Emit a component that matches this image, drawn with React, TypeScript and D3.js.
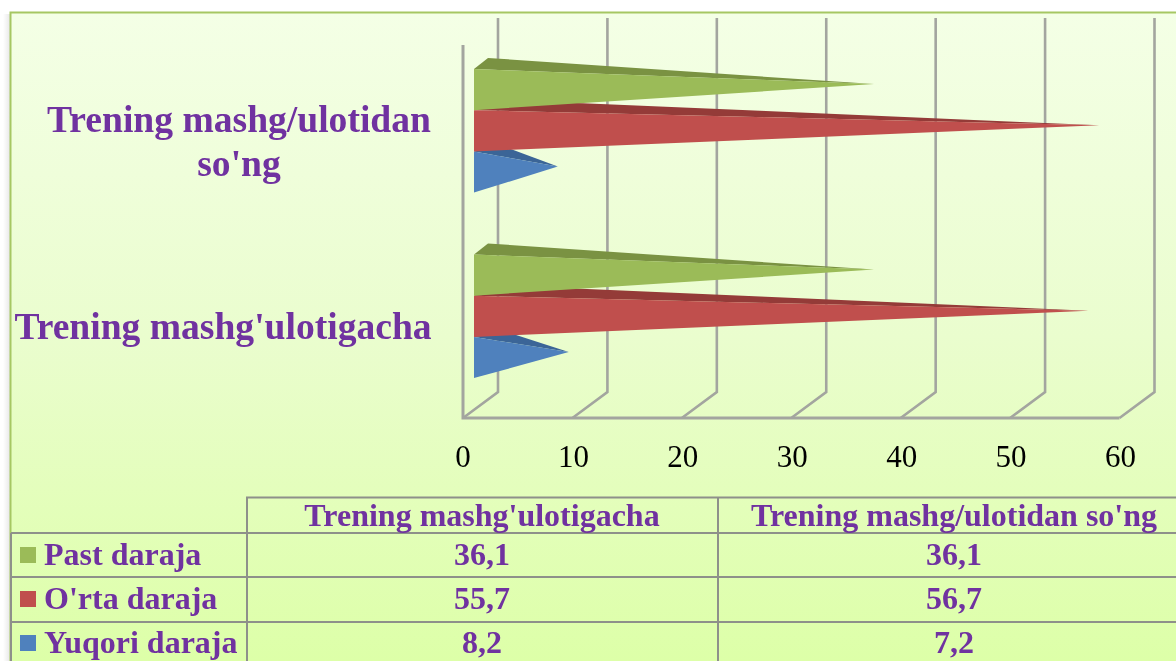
import React from "react";
import * as d3 from "d3";

const categories = ["Trening mashg'ulotigacha", "Trening mashg/ulotidan so'ng"];
const seriesNames = ["Past daraja", "O'rta daraja", "Yuqori daraja"];
const pastValues = [36.1, 36.1];
const ortaValues = [55.7, 56.7];
const yuqoriValues = [8.2, 7.2];
const seriesColors = ["#9BBB59", "#C0504D", "#4F81BD"];
const seriesDark = ["#7A9243", "#943A38", "#3B6597"];
const tickValues = [0, 10, 20, 30, 40, 50, 60];
const categoryLabelLines = [["Trening mashg'ulotigacha"], ["Trening mashg/ulotidan", "so'ng"]];

const seriesValues = [pastValues, ortaValues, yuqoriValues];
const fmt = (v: number) => v.toFixed(1).replace(".", ",");

const WIDTH = 1176;
const HEIGHT = 661;
const FONT = "'Liberation Serif', serif";
const PURPLE = "#7030A0";
const GRID = "#A3A59F";
const TABLE = "#8E908A";

const x = d3.scaleLinear().domain([0, 60]).range([463, 1119.5]);
const depthX = 35;
const depthY = -26;
const floorY = 418;
const backTop = 18;
const wallTop = 45;
const catTop = d3.scaleLinear().domain([0, 1]).range([254.5, 69]);
const barH = 41.2;
const baseX = 474;
const barDX = 14;
const barDY = -11;
const tipShift = 16;

const rowLines = [533, 577, 622];
const colLines = [11, 247, 718];
const rowBaselines = [565, 609, 653];
const colCenters = [482, 954];

export default function App() {
  return (
    <svg
      width={WIDTH}
      height={HEIGHT}
      viewBox={`0 0 ${WIDTH} ${HEIGHT}`}
      style={{ position: "fixed", left: 0, top: 0, display: "block", background: "#fff" }}
    >
      <defs>
        <linearGradient id="bg" x1="0" y1="0" x2="0" y2="1">
          <stop offset="0" stopColor="#F4FFE6" />
          <stop offset="0.5" stopColor="#EAFDCE" />
          <stop offset="1" stopColor="#DDFFA8" />
        </linearGradient>
        <linearGradient id="shadow" x1="0" y1="0" x2="1" y2="0">
          <stop offset="0" stopColor="#fff" />
          <stop offset="1" stopColor="#E8E8E8" />
        </linearGradient>
        <filter id="soft" x="-5%" y="-5%" width="110%" height="110%">
          <feGaussianBlur stdDeviation="0.5" />
        </filter>
        <filter id="softText" x="-5%" y="-5%" width="110%" height="110%">
          <feGaussianBlur stdDeviation="0.3" />
        </filter>
      </defs>

      <rect x={3} y={14} width={7} height={HEIGHT - 14} fill="url(#shadow)" />
      <rect x={10} y={12} width={WIDTH - 10} height={HEIGHT - 12} fill="url(#bg)" />
      <path d={`M10.5,${HEIGHT} V12.5 H${WIDTH}`} fill="none" stroke="#A6C763" strokeWidth={2} />

      <g filter="url(#soft)">
        {tickValues.map((t) => (
          <path
            key={t}
            d={`M${x(t)},${floorY} L${x(t) + depthX},${floorY + depthY} V${backTop}`}
            fill="none"
            stroke={GRID}
            strokeWidth={2.6}
          />
        ))}
        <path
          d={`M${x(0)},${wallTop} V${floorY} H${x(60)}`}
          fill="none"
          stroke={GRID}
          strokeWidth={3}
        />

        {categories.map((c, ci) =>
          [2, 1, 0].map((si) => {
            const y0 = catTop(ci) + si * barH;
            const y1 = y0 + barH;
            const tipX = x(seriesValues[si][ci]) + tipShift;
            const tipY = (y0 + y1) / 2 + barDY / 2;
            return (
              <g key={`${c}-${si}`}>
                <polygon
                  points={`${baseX},${y0} ${baseX + barDX},${y0 + barDY} ${tipX},${tipY}`}
                  fill={seriesDark[si]}
                />
                <polygon
                  points={`${baseX},${y0} ${baseX},${y1} ${tipX},${tipY}`}
                  fill={seriesColors[si]}
                />
              </g>
            );
          })
        )}
      </g>

      <g filter="url(#softText)">
        {tickValues.map((t) => (
          <text
            key={t}
            x={x(t) + (t === 0 ? 0 : 1)}
            y={467}
            textAnchor="middle"
            fontFamily={FONT}
            fontSize={31}
            fill="#000"
          >
            {t}
          </text>
        ))}

        <g fontFamily={FONT} fontWeight="bold" fill={PURPLE} fontSize={37.6}>
          <text x={223} y={339} textAnchor="middle">{categoryLabelLines[0][0]}</text>
          <text x={239} y={132} textAnchor="middle">{categoryLabelLines[1][0]}</text>
          <text x={239} y={176} textAnchor="middle">{categoryLabelLines[1][1]}</text>
        </g>

        <path
          d={`M${WIDTH},497.5 H${colLines[1]} V${HEIGHT} M${colLines[2]},497.5 V${HEIGHT} M${colLines[0]},${rowLines[0]} V${HEIGHT} ${rowLines
            .map((r) => `M${colLines[0]},${r} H${WIDTH}`)
            .join(" ")}`}
          fill="none"
          stroke={TABLE}
          strokeWidth={2}
        />

        <g fontFamily={FONT} fontWeight="bold" fill={PURPLE} fontSize={32}>
          {categories.map((c, i) => (
            <text key={c} x={colCenters[i]} y={525.5} textAnchor="middle">{c}</text>
          ))}
          {seriesNames.map((s, si) => (
            <g key={s}>
              <rect x={20} y={rowBaselines[si] - 18} width={16} height={16} fill={seriesColors[si]} />
              <text x={44} y={rowBaselines[si]}>{s}</text>
              {seriesValues[si].map((v, ci) => (
                <text key={ci} x={colCenters[ci]} y={rowBaselines[si]} textAnchor="middle">{fmt(v)}</text>
              ))}
            </g>
          ))}
        </g>
      </g>
    </svg>
  );
}
